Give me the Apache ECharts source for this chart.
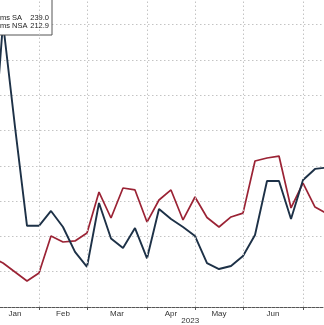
<!DOCTYPE html>
<html>
<head>
<meta charset="utf-8">
<script src="https://cdn.jsdelivr.net/npm/echarts@6/dist/echarts.min.js"></script>
<style>html,body{margin:0;padding:0;background:#fff}#c{width:324px;height:325px}</style>
</head>
<body>
<div id="c"></div>
<script>
// Weekly release dates (Thursdays), 2023
const weeks = ['2023-01-05','2023-01-12','2023-01-19','2023-01-26','2023-02-02','2023-02-09','2023-02-16','2023-02-23',
  '2023-03-02','2023-03-09','2023-03-16','2023-03-23','2023-03-30','2023-04-06','2023-04-13','2023-04-20','2023-04-27',
  '2023-05-04','2023-05-11','2023-05-18','2023-05-25','2023-06-01','2023-06-08','2023-06-15','2023-06-22','2023-06-29',
  '2023-07-06','2023-07-13','2023-07-20'];
const claimsSA = [231,321,262,206,206,214.4,205.3,191.2,182.7,218.9,198.8,193.4,204.7,187.5,215.5,209.8,205.3,
  200.2,184.9,181.5,183.2,188.9,200.8,231.4,231.4,209.8,231.9,238.2,239.0];
const claimsNSA = [188.3,184.9,179.8,174.7,179.3,200.2,196.8,197.4,201.9,225.1,210.4,227.4,226.3,208.1,220.6,226.3,209.3,
  222.3,210.7,205.3,211.0,213.2,242.7,244.4,245.5,216.1,230.2,216.6,212.9];
const seriesNames = ['Initial Claims SA','Initial Claims NSA'];
const monthLabels = ['Jan','Feb','Mar','Apr','May','Jun','Jul'];
const yearLabel = '2023';

// index of first week of each month -> gridlines; label at middle of each month's span
const monthStarts = [];
weeks.forEach((d, i) => { if (i > 0 && d.slice(5,7) !== weeks[i-1].slice(5,7)) monthStarts.push(i); });
const allStarts = [0].concat(monthStarts).concat([monthStarts[monthStarts.length-1] + 4]);
const labelPos = [];
const labelMap = {};
for (let m = 0; m < monthLabels.length; m++) {
  const p = +((allStarts[m] + allStarts[m+1]) / 2).toFixed(3);
  labelPos.push(p);
  labelMap[p] = monthLabels[m];
}
const lastVals = {};
lastVals[seriesNames[0]] = claimsSA[claimsSA.length-1].toFixed(1);
lastVals[seriesNames[1]] = claimsNSA[claimsNSA.length-1].toFixed(1);

const chart = echarts.init(document.getElementById('c'));
const gridStyle = {color: '#c4c4c4', type: [1.5, 2.5], width: 1};
chart.setOption({
  animation: false,
  textStyle: {fontFamily: 'Liberation Sans'},
  grid: {left: 0, right: 0, top: 0, bottom: 18, containLabel: false},
  legend: {
    orient: 'vertical', left: -50.5, top: -10,
    padding: [24, 3, 5, 3], itemGap: 0, itemWidth: 10, itemHeight: 7,
    backgroundColor: '#fff', borderColor: '#555', borderWidth: 1,
    icon: 'rect',
    data: seriesNames,
    formatter: n => '{n|' + n + '}{v|' + lastVals[n] + '}',
    textStyle: {fontSize: 7.5, color: '#222', lineHeight: 7,
      rich: {n: {width: 62, fontSize: 7.5, lineHeight: 7}, v: {width: 19.5, align: 'right', fontSize: 7.5, lineHeight: 7}}}
  },
  xAxis: [{
    type: 'value', min: 0.75, max: 27.75,
    axisLine: {show: true, onZero: false, lineStyle: {color: '#555', type: [3, 1], width: 1}},
    axisTick: {show: true, length: 3, customValues: monthStarts, lineStyle: {color: '#555'}},
    splitLine: {show: false},
    axisLabel: {show: true, customValues: labelPos, margin: 3, fontSize: 8, color: '#333',
      formatter: v => labelMap[+(+v).toFixed(3)] || ''}
  }, {
    type: 'value', min: 0.75, max: 27.75, position: 'bottom', offset: 10,
    axisLine: {show: false}, axisTick: {show: false}, splitLine: {show: false},
    axisLabel: {show: true, customValues: [16.6], margin: 0, fontSize: 8, color: '#333', formatter: () => yearLabel}
  }],
  yAxis: {
    type: 'value', min: 160, max: 333.88, interval: 20, position: 'right',
    axisLine: {show: false}, axisTick: {show: false}, axisLabel: {show: false},
    splitLine: {show: true, showMaxLine: false, showMinLine: false, lineStyle: gridStyle}
  },
  series: [
    {name: 'grid', type: 'line', data: [], z: 1, silent: true,
      markLine: {silent: true, symbol: 'none', label: {show: false}, animation: false,
        lineStyle: gridStyle, emphasis: {disabled: true},
        data: monthStarts.map(i => ({xAxis: i}))}},
    {name: seriesNames[0], type: 'line', data: claimsSA.map((v, i) => [i, v]), symbol: 'none',
      lineStyle: {color: '#1d3147', width: 1.9}, itemStyle: {color: '#1d3147'}, z: 3},
    {name: seriesNames[1], type: 'line', data: claimsNSA.map((v, i) => [i, v]), symbol: 'none',
      lineStyle: {color: '#9b2335', width: 1.7}, itemStyle: {color: '#9b2335'}, z: 2}
  ]
});
</script>
</body>
</html>
